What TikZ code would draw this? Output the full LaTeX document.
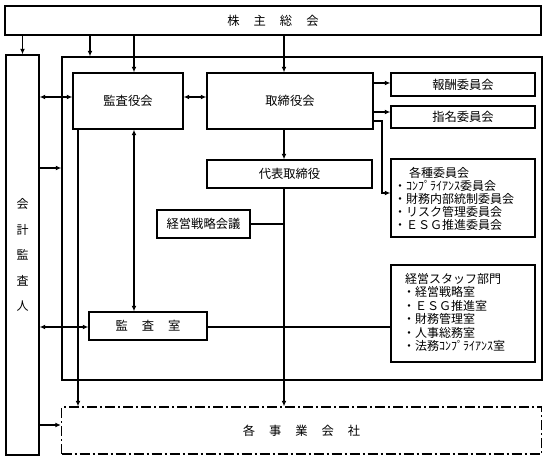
\documentclass[tikz,border=0pt]{standalone}
\usepackage{fontspec}
\setmainfont{Noto Sans CJK JP}
\usetikzlibrary{arrows.meta,calc}
\begin{document}
\begin{tikzpicture}[x=1pt,y=-1pt,
  box/.style={draw,line width=1.4pt,inner sep=0pt,font=\fontsize{12.3}{14}\selectfont},
  dashbox/.style={box,dash pattern=on 10pt off 3pt on 2pt off 3pt},
  ln/.style={line width=1.1pt},
  arr/.style={ln,-{Latex[length=5.5pt,width=5pt]}},
  darr/.style={ln,{Latex[length=5.5pt,width=5pt]}-{Latex[length=5.5pt,width=5pt]}},
  txt/.style={inner sep=0pt,anchor=west,font=\fontsize{12}{14}\selectfont}]
\useasboundingbox (0,0) rectangle (547,460);
% boxes
\node[box,minimum width=536pt,minimum height=29pt] (kabu) at (273,20.5) {株\hspace{14pt}主\hspace{14pt}総\hspace{14pt}会};
\node[box,minimum width=33pt,minimum height=400pt,align=center,font=\fontsize{12}{25.5}\selectfont] (kaikei) at (22.5,255) {会\\計\\監\\査\\人};
\node[box,minimum width=480pt,minimum height=323pt] (outer) at (302,218.5) {};
\node[box,minimum width=110pt,minimum height=56pt] (kansayaku) at (128,101) {監査役会};
\node[box,minimum width=166pt,minimum height=56pt] (torishimari) at (290,101) {取締役会};
\node[box,minimum width=144pt,minimum height=23pt] (houshu) at (463,84.5) {報酬委員会};
\node[box,minimum width=144pt,minimum height=22pt] (shimei) at (463,117) {指名委員会};
\node[box,minimum width=165pt,minimum height=28pt] (daihyo) at (289.5,174) {代表取締役};
\node[box,minimum width=144pt,minimum height=78pt] (kakushu) at (463,198) {};
\node[box,minimum width=93pt,minimum height=28pt] (senryaku) at (203.5,224) {経営戦略会議};
\node[box,minimum width=118pt,minimum height=28pt] (kansashitsu) at (148,326) {監\hspace{14pt}査\hspace{14pt}室};
\node[box,minimum width=144pt,minimum height=97pt] (staff) at (463,313.5) {};
\node[dashbox,minimum width=480pt,minimum height=47pt] (jigyo) at (301.5,430.5) {各\hspace{14pt}事\hspace{14pt}業\hspace{14pt}会\hspace{14pt}社};
% list texts
\node[txt] (kt) at (409,173) {各種委員会};
\node[txt] (k1) at (394,186) {・ｺﾝﾌﾟﾗｲｱﾝｽ委員会};
\node[txt] (k2) at (394,199) {・財務内部統制委員会};
\node[txt] (k3) at (394,212) {・リスク管理委員会};
\node[txt] (k4) at (394,225) {・ＥＳＧ推進委員会};
\node[txt] (st) at (405,279) {経営スタッフ部門};
\node[txt] (s1) at (403,292) {・経営戦略室};
\node[txt] (s2) at (403,305.5) {・ＥＳＧ推進室};
\node[txt] (s3) at (403,319) {・財務管理室};
\node[txt] (s4) at (403,332.5) {・人事総務室};
\node[txt] (s5) at (403,346) {・法務ｺﾝﾌﾟﾗｲｱﾝｽ室};
% helper coordinates
\coordinate (x78) at (78,0);
\coordinate (x90) at (90,0);
\coordinate (x134) at (134,0);
\coordinate (x284) at (284,0);
\coordinate (x382) at (382,0);
\coordinate (y83) at (0,83);
\coordinate (y97) at (0,97);
\coordinate (y112) at (0,112);
\coordinate (y121) at (0,121);
\coordinate (y168) at (0,168);
\coordinate (y193) at (0,193);
\coordinate (y327) at (0,327);
\coordinate (y425) at (0,425);
% connectors
\draw[arr] (kabu.south -| kaikei.center) -- (kaikei.north);
\draw[arr] (kabu.south -| x90) -- (outer.north -| x90);
\draw[arr] (kabu.south -| x134) -- (kansayaku.north -| x134);
\draw[arr] (kabu.south -| x284) -- (torishimari.north -| x284);
\draw[darr] (kaikei.east |- y97) -- (kansayaku.west |- y97);
\draw[darr] (kansayaku.east |- y97) -- (torishimari.west |- y97);
\draw[arr] (torishimari.east |- y83) -- (houshu.west |- y83);
\draw[arr] (torishimari.east |- y112) -- (shimei.west |- y112);
\draw[arr] (torishimari.east |- y121) -| (x382 |- y193) -- (kakushu.west |- y193);
\draw[arr] (torishimari.south -| x284) -- (daihyo.north -| x284);
\draw[arr] (daihyo.south -| x284) -- (jigyo.north -| x284);
\draw[ln] (senryaku.east) -- (senryaku.east -| x284);
\draw[arr] (kansayaku.south -| x78) -- (jigyo.north -| x78);
\draw[darr] (kansayaku.south -| x134) -- (kansashitsu.north -| x134);
\draw[darr] (kaikei.east |- y327) -- (kansashitsu.west |- y327);
\draw[ln] (kansashitsu.east |- y327) -- (staff.west |- y327);
\draw[arr] (kaikei.east |- y168) -- (outer.west |- y168);
\draw[arr] (kaikei.east |- y425) -- (jigyo.west |- y425);
\end{tikzpicture}
\end{document}
